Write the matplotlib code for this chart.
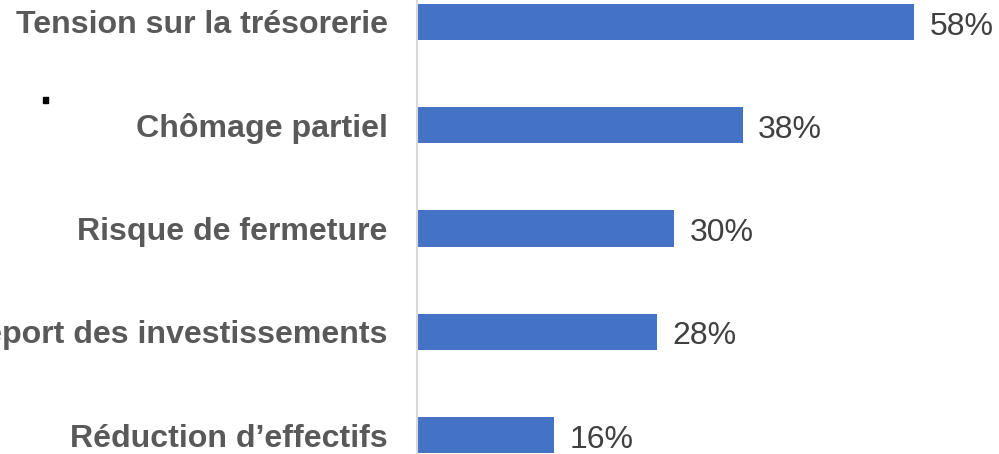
import matplotlib.pyplot as plt
from matplotlib.patches import Rectangle

categories = ["Tension sur la trésorerie", "Chômage partiel", "Risque de fermeture",
              "Report des investissements", "Réduction d’effectifs"]
values = [58, 38, 30, 28, 16]
value_labels = ["58%", "38%", "30%", "28%", "16%"]

plt.rcParams['font.family'] = ['Liberation Sans', 'DejaVu Sans']

fig = plt.figure(figsize=(9.99, 4.54), dpi=100)
ax = fig.add_axes([417 / 999, 0, 1 - 417 / 999, 1])

pos = list(range(len(categories)))
ax.barh(pos, values, height=0.35, color="#4472C4")

for p, v, lab in zip(pos, values, value_labels):
    ax.text(v + 1.8, p + 0.01, lab, va="center_baseline", ha="left",
            fontsize=23, color="#404040")

ax.set_xlim(0, 58 * (999 - 417) / 497)
ax.set_ylim(4.184, -0.213)

ax.set_yticks(pos)
ax.set_yticklabels(categories, fontsize=23.1, fontweight="bold", color="#595959")
for t in ax.get_yticklabels():
    t.set_verticalalignment("center_baseline")
ax.tick_params(axis="y", length=0, pad=21)
ax.set_xticks([])

for s in ["top", "right", "bottom"]:
    ax.spines[s].set_visible(False)
ax.spines["left"].set_color("#D9D9D9")
ax.spines["left"].set_linewidth(1.5)

# petit point noir
fig.patches.append(Rectangle((43 / 999, 1 - 103 / 454), 5 / 999, 6 / 454,
                             transform=fig.transFigure, color="black"))

fig.savefig("out.png", dpi=100)
